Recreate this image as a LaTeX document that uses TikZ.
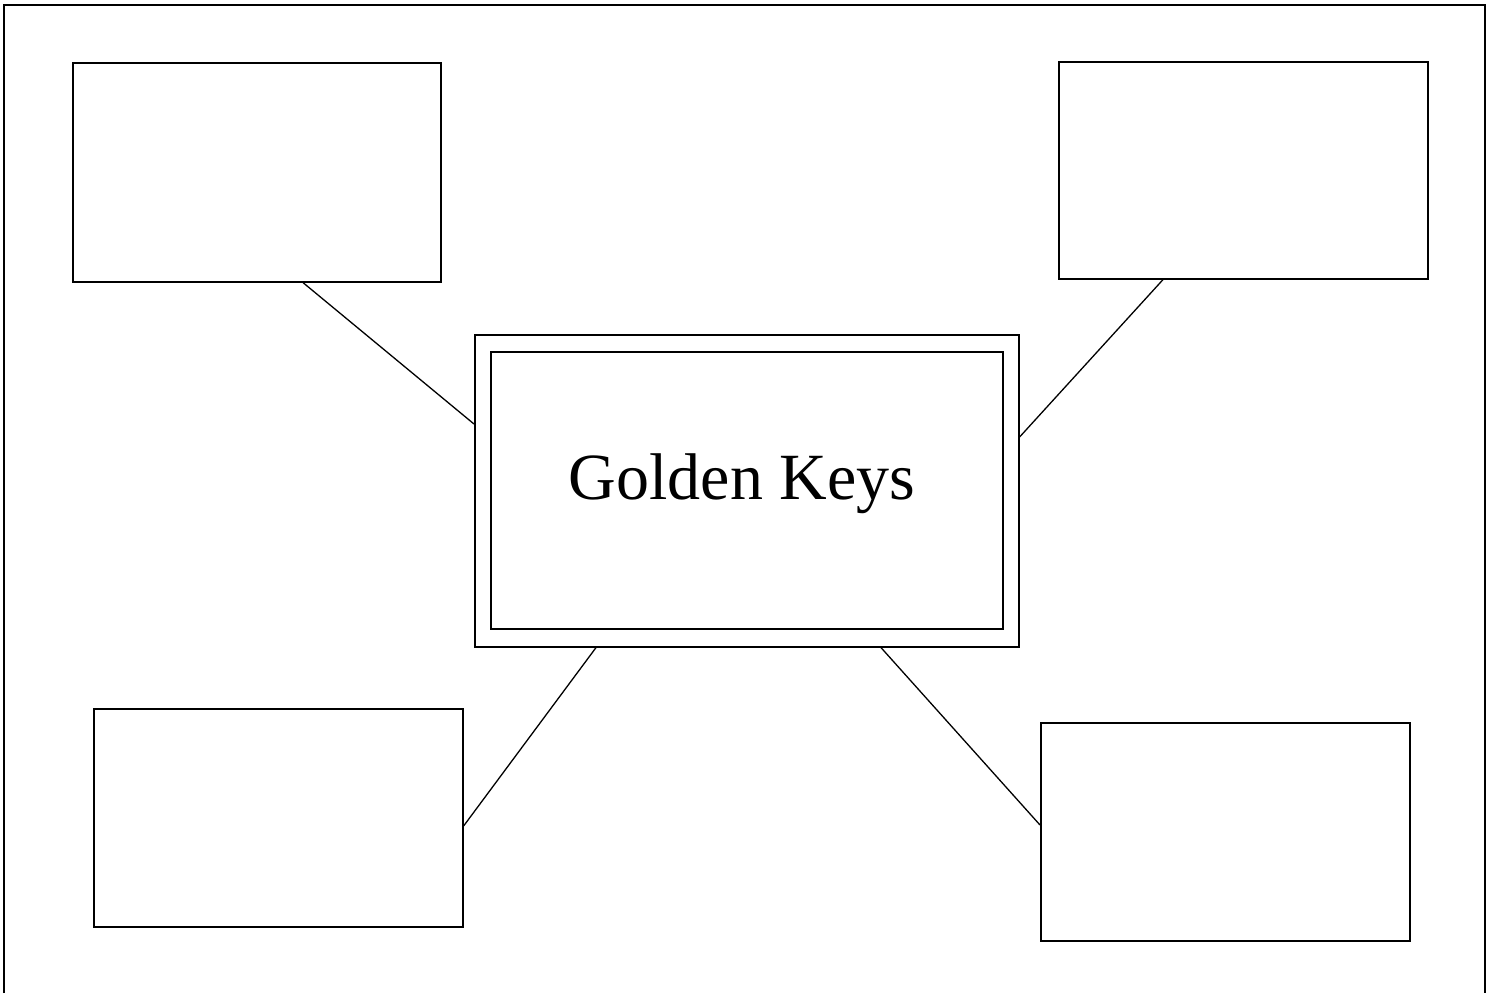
\documentclass[tikz,border=0pt]{standalone}
\usepackage{fontspec}
\setmainfont{Liberation Serif}
\usetikzlibrary{calc}
\tikzset{
  card/.style={draw, line width=1.6pt, inner sep=0pt, anchor=north west},
  link/.style={line width=1.3pt},
}
\begin{document}
\begin{tikzpicture}[x=1pt,y=-1pt]
\useasboundingbox (0,0) rectangle (1488,993);
\fill[white] (0,0) rectangle (1488,993);
% frame
\draw[line width=2pt] (4,993) -- (4,5) -- (1485,5) -- (1485,993);
% outer boxes
\node[card, minimum width=368pt, minimum height=219pt] (tl) at (72,62) {};
\node[card, minimum width=369pt, minimum height=217pt] (tr) at (1058,61) {};
\node[card, minimum width=369pt, minimum height=218pt] (bl) at (93,708) {};
\node[card, minimum width=369pt, minimum height=218pt] (br) at (1040,722) {};
% center
\node[card, minimum width=544pt, minimum height=312pt] (c) at (474,334) {};
\node[card, line width=2pt, minimum width=512pt, minimum height=277pt] (ci) at (490,351) {};
\node[font=\fontsize{66}{70}\selectfont] (lab) at (742,484) {Golden Keys};
% connectors
\draw[link] ($(tl.south west)+(231,0)$) -- ($(c.north west)+(0,90)$);
\draw[link] ($(tr.south west)+(105,0)$) -- ($(c.north east)+(0,103)$);
\draw[link] ($(c.south west)+(122,0)$) -- ($(bl.north east)+(0,118)$);
\draw[link] ($(c.south west)+(407,0)$) -- ($(br.north west)+(0,103)$);
\end{tikzpicture}
\end{document}
